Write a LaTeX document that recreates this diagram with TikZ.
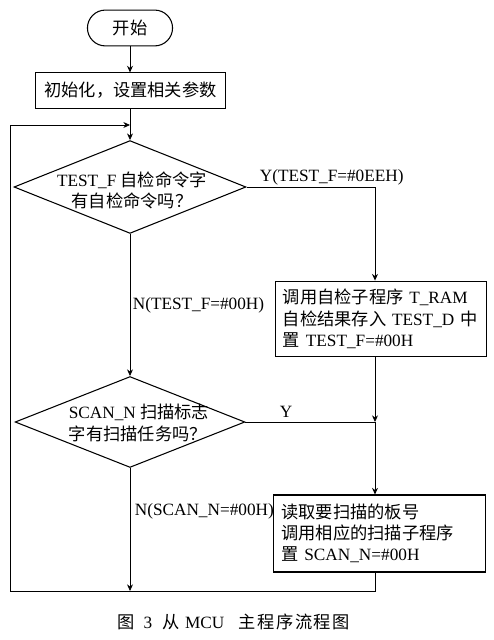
\documentclass[tikz,border=0pt]{standalone}
\usepackage{fontspec}
\setmainfont{Liberation Serif}
\newfontfamily\cjk{Noto Sans CJK SC}
\usetikzlibrary{arrows.meta,shapes.geometric,shapes.misc}

\begin{document}
\begin{tikzpicture}[x=0.0265cm,y=-0.0265cm,
        font=\fontsize{13}{16}\selectfont,
        line width=0.6pt,
        flow/.style={-{Stealth[length=5pt,width=4.5pt]}},
        box/.style={draw,rectangle,line width=0.8pt,inner xsep=0.2cm,inner ysep=0pt,
                    text width=5.2cm,align=left},
        decision/.style={draw,diamond,line width=0.8pt,inner sep=0pt}]
    \useasboundingbox (0,0) rectangle (494,640);

    % Start and initialisation
    \node[draw,rounded rectangle,line width=0.8pt,minimum width=2.49cm,minimum height=0.95cm] (start) at (130,28) {{\cjk 开始}};
    \node[draw,rectangle,line width=0.8pt,minimum width=5.06cm,minimum height=0.93cm] (init) at (130.5,90.5) {{\cjk 初始化，设置相关参数}};

    % Main column and right column
    \coordinate (loop) at (130,125);
    \coordinate (rcol) at (375,0);
    \coordinate (bottom) at (130,591);
    \coordinate (back) at (10,591);

    % Decisions
    \node[decision,minimum width=6.15cm,minimum height=2.46cm] (test) at (130,187) {};
    \node[align=center] (testq) at (132,190) {TEST\_F {\cjk 自检命令字}\\{\cjk 有自检命令吗？}};
    \node[decision,minimum width=6.09cm,minimum height=2.41cm] (scan) at (130,422) {};
    \node[align=left,anchor=west] (scanq) at (64,423) {SCAN\_N {\cjk 扫描标志}\\{\cjk 字有扫描任务吗？}};

    % Actions
    \node[box,minimum height=2.01cm] (selftest) at (381,319)
        {{\cjk 调用自检子程序} T\_RAM\\{\cjk 自检结果存入} TEST\_D {\cjk 中}\\{\cjk 置} TEST\_F=\#00H};
    \node[box,minimum height=2.04cm] (scanjob) at (379.5,533.5)
        {{\cjk 读取要扫描的板号}\\{\cjk 调用相应的扫描子程序}\\{\cjk 置} SCAN\_N=\#00H};

    % Connectors
    \draw[flow] (start.south) -- (start.south |- init.north);
    \draw (loop |- init.south) -- (loop);
    \draw[flow] (loop) -- (test.north);
    \draw[flow] (test.east) -| (rcol |- selftest.north);
    \draw[flow] (test.south) -- (scan.north);
    \draw (scan.east) -- (rcol |- scan.east);
    \draw[flow] (rcol |- selftest.south) -- (rcol |- scan.east);
    \draw[flow] (rcol |- scan.east) -- (rcol |- scanjob.north);
    \draw[flow] (scan.south) -- (bottom);
    \draw (rcol |- scanjob.south) |- (bottom);
    \draw[flow] (bottom) -- (back) |- (loop);

    % Labels
    \node[anchor=west] (yes1) at (255,177) {Y(TEST\_F=\#0EEH)};
    \node[anchor=west] (no1) at (128,305) {N(TEST\_F=\#00H)};
    \node[anchor=west] (yes2) at (275,412) {Y};
    \node[anchor=west] (no2) at (130,511) {N(SCAN\_N=\#00H)};
    \node (caption) at (234,622) {{\cjk 图}\hspace{0.5em}3\hspace{0.6em}{\cjk 从}\hspace{0.3em}MCU\hspace{0.8em}{\cjk 主\hspace{0.1em}程\hspace{0.1em}序\hspace{0.1em}流\hspace{0.1em}程\hspace{0.1em}图}};
\end{tikzpicture}
\end{document}
